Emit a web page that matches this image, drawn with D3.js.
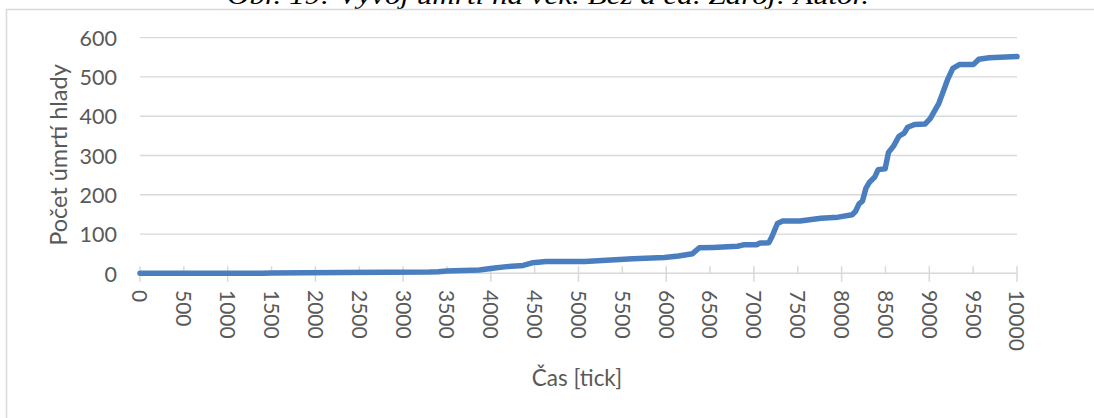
<!DOCTYPE html>
<html>
<head>
<meta charset="utf-8">
<script src="https://cdn.jsdelivr.net/npm/d3@7"></script>
<style>
  html, body { margin: 0; padding: 0; background: #fff; }
  svg { display: block; }
</style>
</head>
<body>
<div id="chart"></div>
<script>
// ---- data ----
const ticks = [0, 1400, 1500, 2300, 3300, 3400, 3500, 3870, 4020, 4180, 4370, 4480, 4630, 5070,
  5620, 5980, 6140, 6300, 6378, 6536, 6813, 6892, 7031, 7071, 7170, 7209, 7268, 7328, 7526,
  7763, 7961, 8120, 8159, 8199, 8238, 8278, 8318, 8377, 8417, 8496, 8535, 8595, 8654, 8713,
  8753, 8832, 8951, 9010, 9109, 9149, 9208, 9268, 9347, 9505, 9565, 9683, 10000];
const deaths = [0, 0, 1, 2, 3, 4, 6, 8.5, 13, 17, 20, 27, 30, 30,
  37, 40, 44, 50, 65, 66, 69, 73, 73, 77, 78, 95, 127, 133, 133,
  140, 143, 149, 158, 177, 184, 217, 232, 245, 264, 266, 308, 325, 349, 357,
  372, 379, 380, 394, 433, 457, 493, 522, 532, 532, 545, 549, 552];
const yTickValues = [0, 100, 200, 300, 400, 500, 600];
const xLabelValues = d3.range(0, 10001, 500);
const xMajorTicks = d3.range(0, 10001, 1000);
const xMinorTicks = d3.range(500, 10000, 1000);
const titleText = "Obr. 19: Vývoj úmrtí na věk. Bez a ča. Zdroj: Autor.";
const yTitle = "Počet úmrtí hlady";
const xTitle = "Čas [tick]";

// ---- drawing ----
const W = 1094, H = 418;
const svg = d3.select("#chart").append("svg").attr("width", W).attr("height", H);
svg.append("rect").attr("width", W).attr("height", H).attr("fill", "#fff");

const x = d3.scaleLinear().domain([0, 10000]).range([140, 1017]);
const y = d3.scaleLinear().domain([0, 600]).range([273.3, 37.7]);

const grey = "#d9d9d9", textCol = "#595959", font = "Lato, 'Open Sans', sans-serif";

// caption (cut off at the top edge, as in the reference)
svg.append("text").attr("x", 227).attr("y", 4)
  .attr("font-family", "'Liberation Serif', serif").attr("font-style", "italic")
  .attr("font-size", 26).attr("fill", "#000")
  .attr("textLength", 642).attr("lengthAdjust", "spacingAndGlyphs")
  .text(titleText);

// chart frame (extends beyond right/bottom)
svg.append("path").attr("d", `M6.5,${H + 5} V9.5 H${W + 5}`)
  .attr("fill", "none").attr("stroke", grey).attr("stroke-width", 1.5);

// gridlines
svg.append("g").selectAll("line").data(yTickValues.filter(d => d > 0)).join("line")
  .attr("x1", x(0)).attr("x2", x(10000))
  .attr("y1", d => y(d)).attr("y2", d => y(d))
  .attr("stroke", grey).attr("stroke-width", 1.3);

// y axis labels
const yAxis = d3.axisLeft(y).tickValues(yTickValues).tickSize(0).tickPadding(0);
const gy = svg.append("g").attr("transform", "translate(117,0)").call(yAxis);
gy.select(".domain").remove();
gy.selectAll("text").attr("font-family", font).attr("font-size", 21.5).attr("fill", textCol)
  .attr("dy", "0.36em");

// x axis line and ticks
const gx = svg.append("g");
gx.append("line").attr("x1", x(0)).attr("x2", x(10000)).attr("y1", y(0)).attr("y2", y(0))
  .attr("stroke", grey).attr("stroke-width", 1.5);
gx.selectAll("line.maj").data(xMajorTicks).join("line").attr("class", "maj")
  .attr("x1", d => x(d)).attr("x2", d => x(d))
  .attr("y1", y(0) - 7).attr("y2", y(0) + 8.5)
  .attr("stroke", grey).attr("stroke-width", 1.5);
gx.selectAll("line.min").data(xMinorTicks).join("line").attr("class", "min")
  .attr("x1", d => x(d)).attr("x2", d => x(d))
  .attr("y1", y(0) - 7).attr("y2", y(0))
  .attr("stroke", grey).attr("stroke-width", 1.5);
gx.selectAll("text").data(xLabelValues).join("text")
  .attr("transform", d => `translate(${x(d)},290) rotate(90)`)
  .attr("text-anchor", "start").attr("dy", "0.36em")
  .attr("font-family", font).attr("font-size", 21).attr("fill", textCol)
  .text(d => d);

// axis titles
svg.append("text").attr("transform", "translate(67,155) rotate(-90)")
  .attr("text-anchor", "middle")
  .attr("font-family", font).attr("font-size", 23.5).attr("fill", textCol).text(yTitle);
svg.append("text").attr("x", 577).attr("y", 386).attr("text-anchor", "middle")
  .attr("font-family", font).attr("font-size", 22.5).attr("fill", textCol).text(xTitle);

// series line
const data = ticks.map((t, i) => ({ t, v: deaths[i] }));
svg.append("path").datum(data)
  .attr("fill", "none").attr("stroke", "#4a7ebf").attr("stroke-width", 5.5)
  .attr("stroke-linejoin", "round").attr("stroke-linecap", "round")
  .attr("d", d3.line().x(d => x(d.t)).y(d => y(d.v)));
</script>
</body>
</html>
